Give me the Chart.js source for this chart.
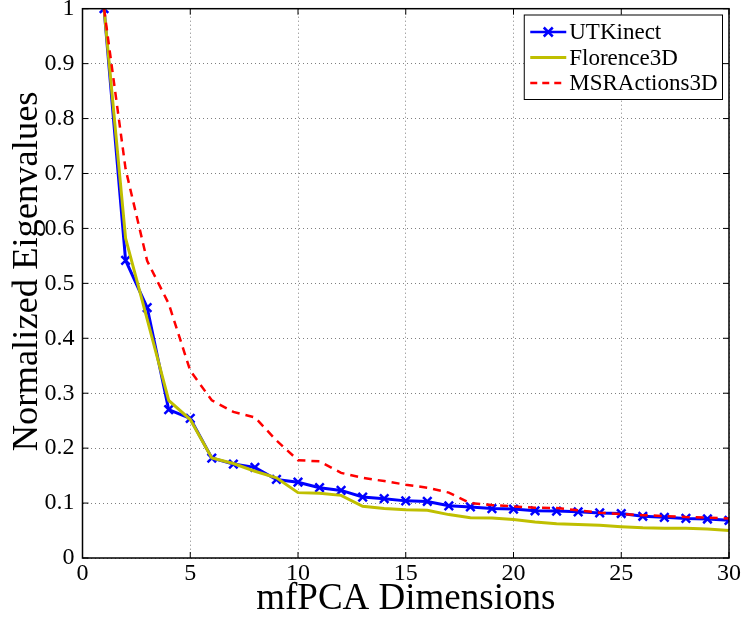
<!DOCTYPE html>
<html><head><meta charset="utf-8">
<script src="https://cdn.jsdelivr.net/npm/chart.js@4"></script>
<style>html,body{margin:0;padding:0;background:#fff}#wrap{width:742px;height:617px}</style>
</head><body><div id="wrap"><canvas id="c" width="742" height="617"></canvas></div>
<script>
const dims = [1,2,3,4,5,6,7,8,9,10,11,12,13,14,15,16,17,18,19,20,21,22,23,24,25,26,27,28,29,30];
const xTicks = [0,5,10,15,20,25,30];
const yTicks = [0,0.1,0.2,0.3,0.4,0.5,0.6,0.7,0.8,0.9,1];
const yTickLabels = ['0','0.1','0.2','0.3','0.4','0.5','0.6','0.7','0.8','0.9','1'];
const seriesNames = ['UTKinect','Florence3D','MSRActions3D'];
const xTitle = 'mfPCA Dimensions';
const yTitle = 'Normalized Eigenvalues';
const utkinect = [1.0,0.542,0.456,0.270,0.254,0.182,0.171,0.165,0.143,0.138,0.128,0.123,0.111,0.108,0.104,0.103,0.095,0.093,0.090,0.089,0.086,0.0855,0.084,0.082,0.081,0.076,0.074,0.072,0.071,0.0685];
const florence3d = [1.0,0.582,0.435,0.287,0.252,0.182,0.172,0.158,0.146,0.119,0.118,0.114,0.094,0.090,0.088,0.087,0.079,0.0735,0.073,0.070,0.0655,0.0625,0.061,0.0595,0.057,0.055,0.054,0.054,0.0527,0.050];
const msractions3d = [1.0,0.708,0.541,0.463,0.341,0.287,0.266,0.256,0.214,0.178,0.176,0.155,0.146,0.140,0.1335,0.128,0.119,0.100,0.0964,0.094,0.0916,0.091,0.0867,0.0825,0.080,0.078,0.0764,0.0745,0.0735,0.072];

const FONT = '"Liberation Serif", "Times New Roman", serif';
const BLUE = '#0000ff', YEL = '#bfbf00', RED = '#ff0000';

const toXY = arr => arr.map((v,i) => ({x: dims[i], y: v}));

const boxPlugin = {
  id: 'boxTicks',
  afterDatasetsDraw(chart) {
    const {ctx, chartArea: ca, scales} = chart;
    ctx.save();
    ctx.strokeStyle = '#000';
    ctx.lineWidth = 1.5;
    ctx.setLineDash([]);
    ctx.strokeRect(ca.left, ca.top, ca.right - ca.left, ca.bottom - ca.top);
    ctx.lineWidth = 1;
    const L = 6;
    ctx.beginPath();
    xTicks.forEach(v => {
      const p = scales.x.getPixelForValue(v);
      ctx.moveTo(p, ca.bottom); ctx.lineTo(p, ca.bottom - L);
      ctx.moveTo(p, ca.top); ctx.lineTo(p, ca.top + L);
    });
    yTicks.forEach(v => {
      const p = scales.y.getPixelForValue(v);
      ctx.moveTo(ca.left, p); ctx.lineTo(ca.left + L, p);
      ctx.moveTo(ca.right, p); ctx.lineTo(ca.right - L, p);
    });
    ctx.stroke();
    ctx.restore();
  },
  afterDraw(chart) {
    const {ctx, chartArea: ca} = chart;
    ctx.save();
    // y axis title
    ctx.font = '36.5px ' + FONT;
    ctx.fillStyle = '#000';
    ctx.translate(37, (ca.top + ca.bottom) / 2 - 12);
    ctx.rotate(-Math.PI / 2);
    ctx.textAlign = 'center';
    ctx.textBaseline = 'alphabetic';
    ctx.fillText(yTitle, 0, 0);
    ctx.restore();

    ctx.save();
    ctx.font = '23px ' + FONT;
    const textW = Math.max(...seriesNames.map(n => ctx.measureText(n).width));
    const padL = 6, sample = 36, gap = 3, padR = 5, rowH = 25.5;
    const boxW = padL + sample + gap + textW + padR;
    const boxH = rowH * 3 + 8;
    const bx = ca.right - 6.5 - boxW, by = ca.top + 6.3;
    ctx.fillStyle = '#fff';
    ctx.fillRect(bx, by, boxW, boxH);
    ctx.strokeStyle = '#000'; ctx.lineWidth = 1;
    ctx.strokeRect(bx, by, boxW, boxH);
    const styles = [
      {c: BLUE, w: 2.5, dash: [], marker: true},
      {c: YEL, w: 3, dash: [], marker: false},
      {c: RED, w: 2.5, dash: [7,5], marker: false}
    ];
    seriesNames.forEach((n, i) => {
      const cy = by + 17 + i * rowH;
      const s = styles[i];
      const x0 = bx + padL, x1 = x0 + sample;
      ctx.strokeStyle = s.c; ctx.lineWidth = s.w; ctx.setLineDash(s.dash);
      ctx.beginPath(); ctx.moveTo(x0, cy); ctx.lineTo(x1, cy); ctx.stroke();
      ctx.setLineDash([]);
      if (s.marker) {
        const m = (x0 + x1) / 2, r = 4.5;
        ctx.beginPath();
        ctx.moveTo(m - r, cy - r); ctx.lineTo(m + r, cy + r);
        ctx.moveTo(m - r, cy + r); ctx.lineTo(m + r, cy - r);
        ctx.stroke();
      }
      ctx.fillStyle = '#000';
      ctx.textBaseline = 'middle';
      ctx.textAlign = 'left';
      ctx.fillText(n, x1 + gap, cy + 1);
    });
    ctx.restore();
  }
};

new Chart(document.getElementById('c'), {
  type: 'line',
  data: {
    datasets: [
      {label: seriesNames[0], data: toXY(utkinect), borderColor: BLUE, backgroundColor: BLUE, borderWidth: 3,
       pointStyle: 'crossRot', pointRadius: 6, pointBorderWidth: 2.5, pointBorderColor: BLUE, order: 2, tension: 0},
      {label: seriesNames[1], data: toXY(florence3d), borderColor: YEL, backgroundColor: YEL, borderWidth: 3,
       pointRadius: 0, order: 1, tension: 0},
      {label: seriesNames[2], data: toXY(msractions3d), borderColor: RED, backgroundColor: RED, borderWidth: 2.5,
       borderDash: [8,6], pointRadius: 0, order: 0, tension: 0}
    ]
  },
  options: {
    responsive: false,
    animation: false,
    devicePixelRatio: 1,
    layout: {padding: {top: 8.7, right: 12.5, bottom: 0, left: 0}},
    plugins: {legend: {display: false}, tooltip: {enabled: false}},
    scales: {
      x: {
        type: 'linear', min: 0, max: 30,
        afterBuildTicks: s => { s.ticks = xTicks.map(v => ({value: v})); },
        ticks: {font: {family: FONT, size: 24}, color: '#000', padding: 1, maxRotation: 0, autoSkip: false,
                callback: v => String(v)},
        grid: {color: 'rgba(0,0,0,0.5)', drawTicks: false, lineWidth: 1},
        border: {display: false, dash: [1,3]},
        title: {display: true, text: xTitle, color: '#000',
                font: {family: FONT, size: 37, lineHeight: 0.9}, padding: {top: 0, bottom: 1}},
        afterFit: s => { s.height = 59; }
      },
      y: {
        type: 'linear', min: 0, max: 1,
        afterBuildTicks: s => { s.ticks = yTicks.map(v => ({value: v})); },
        ticks: {font: {family: FONT, size: 24, lineHeight: 0.03}, color: '#000', padding: 8,
                callback: (v) => yTickLabels[yTicks.findIndex(t => Math.abs(t - v) < 1e-6)]},
        grid: {color: 'rgba(0,0,0,0.5)', drawTicks: false, lineWidth: 1},
        border: {display: false, dash: [1,3]},
        title: {display: false},
        afterFit: s => { s.width = 82.5; }
      }
    }
  },
  plugins: [boxPlugin]
});
</script></body></html>
